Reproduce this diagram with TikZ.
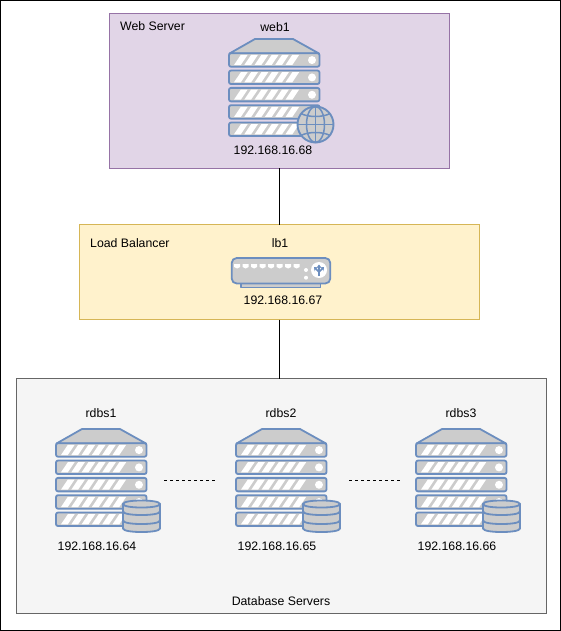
\documentclass[tikz,border=0pt]{standalone}
\usepackage{fontspec}
\setmainfont{Liberation Sans}
\usetikzlibrary{arrows.meta}
\definecolor{iconblue}{HTML}{6C8EBF}
\definecolor{icongrey}{HTML}{CCCCCC}
\definecolor{webline}{HTML}{9673A6}
\definecolor{webfill}{HTML}{E1D5E7}
\definecolor{lbline}{HTML}{D6B656}
\definecolor{lbfill}{HTML}{FFF2CC}
\definecolor{dbline}{HTML}{666666}
\definecolor{dbfill}{HTML}{F5F5F5}
\tikzset{
  lbl/.style={inner sep=0pt,font=\fontsize{12.3}{14}\selectfont,text=black},
  groupbox/.style={draw=#1,line width=0.9pt,anchor=north west,inner sep=0pt,outer sep=0pt},
  iconbox/.style={anchor=north west,inner sep=0pt,outer sep=0pt},
  iconline/.style={draw=iconblue,line width=1.8pt,fill=icongrey,line join=round},
  link/.style={draw=black,line width=0.9pt},
  dots/.style={draw=black,line width=0.75pt,dash pattern=on 3pt off 3pt},
  serverstack/.pic={
    \path[iconline] (1.5,15.5) -- (27,1) -- (65,1) -- (91,15.5) -- cycle;
    \foreach \ry in {15.2,32.53,49.87,67.2,84.53}{
      \path[iconline,rounded corners=2pt] (1,\ry) rectangle (91.5,\ry+13.5);
      \foreach \k in {0,...,5}{
        \fill[white] ({6+10.3*\k},\ry+11.8) -- ({12.8+10.3*\k},\ry+11.8) -- ({19.6+10.3*\k},\ry+1.7) -- ({12.8+10.3*\k},\ry+1.7) -- cycle;
      }
      \fill[white] (84,\ry+6.9) circle[radius=4];
    }
  },
  globeicon/.pic={
    \path[iconline,line width=1.9pt] (87.5,86.5) circle[radius=18];
    \begin{scope}[draw=iconblue,line width=1.5pt]
      \draw (87.5,86.5) ellipse[x radius=9,y radius=18];
      \draw (87.5,68.5) -- (87.5,104.5);
      \draw (69.5,86.5) -- (105.5,86.5);
      \draw (73,75.5) .. controls (80,79.5) and (95,79.5) .. (102,75.5);
      \draw (73,97.5) .. controls (80,93.5) and (95,93.5) .. (102,97.5);
    \end{scope}
  },
  dbicon/.pic={
    \foreach \ty/\by in {88/100.5,80/92.5,76/83.5}{
      \path[iconline] (68,\ty) -- (68,\by) .. controls (68,\by+4.7) and (105,\by+4.7) .. (105,\by) -- (105,\ty) -- cycle;
    }
    \path[iconline] (68,76) .. controls (68,71.3) and (105,71.3) .. (105,76) .. controls (105,80.7) and (68,80.7) .. (68,76) -- cycle;
  },
  lbicon/.pic={
    \path[iconline] (10,26.5) rectangle (89.5,30.5);
    \path[iconline,rounded corners=5pt] (0.7,1) rectangle (99.3,26.5);
    \foreach \k in {0,...,7}{
      \fill[white] ({6+8.5*\k-3},7) -- ({6+8.5*\k+3},7) -- ({6+8.5*\k+3},10) -- ({6+8.5*\k},11.5) -- ({6+8.5*\k-3},10) -- cycle;
    }
    \fill[white] (75,13) circle[radius=2];
    \fill[white] (75,20.7) circle[radius=2];
    \fill[white] (88,13) circle[radius=8];
    \begin{scope}[draw=iconblue,fill=iconblue,line width=1.6pt]
      \draw[-{Stealth[length=3.5pt,width=5pt]}] (88,19) -- (88,7.5);
      \draw[-{Stealth[length=3.5pt,width=5pt]}] (88,15) -- (83,10);
      \draw[-{Stealth[length=3.5pt,width=5pt]}] (88,15) -- (93,10);
    \end{scope}
  }
}
\begin{document}
\begin{tikzpicture}[x=1pt,y=-1pt]
\useasboundingbox (0,0) rectangle (561,631);
\draw[black,line width=1.2pt] (0.5,0.5) rectangle (560.4,630.4);

\node[groupbox=webline,fill=webfill,minimum width=340pt,minimum height=155pt] (webgroup) at (109.5,13.5) {};
\node[groupbox=lbline,fill=lbfill,minimum width=400pt,minimum height=95pt] (lbgroup) at (79.5,224.5) {};
\node[groupbox=dbline,fill=dbfill,minimum width=530pt,minimum height=235pt] (dbgroup) at (16.5,378.5) {};

\draw[link] (webgroup.south -| lbgroup.north) -- (lbgroup.north);
\draw[link] (lbgroup.south) -- (lbgroup.south |- dbgroup.north);

% web server
\node[iconbox,minimum width=106pt,minimum height=106pt] (web1icon) at (228,38) {};
\pic at (228,38) {serverstack};
\pic at (228,38) {globeicon};
\node[lbl,anchor=west] (webtitle) at (120,26) {Web Server};
\node[lbl] (web1) at (275,27) {web1};
\node[lbl] (webip) at (273,150) {192.168.16.68};

% load balancer
\node[iconbox,minimum width=100pt,minimum height=31pt] (lb1icon) at (231,257) {};
\pic at (231,257) {lbicon};
\node[lbl,anchor=west] (lbtitle) at (90,243) {Load Balancer};
\node[lbl] (lb1) at (280,243) {lb1};
\node[lbl] (lbip) at (283,300) {192.168.16.67};

% database servers
\foreach \nm/\xx/\ip in {rdbs1/55/64,rdbs2/235/65,rdbs3/415/66}{
  \node[iconbox,minimum width=106pt,minimum height=105pt] (\nm icon) at (\xx,428) {};
  \pic at (\xx,428) {serverstack};
  \pic at (\xx,428) {dbicon};
  \node[lbl] (\nm) at (\xx+46,413) {\nm};
  \node[lbl] (\nm ip) at (\xx+42,546) {192.168.16.\ip};
}
\node[lbl] (dbtitle) at (281,601) {Database Servers};

\draw[dots] ([xshift=3pt]rdbs1icon.east) -- ([xshift=-20pt]rdbs2icon.west);
\draw[dots] ([xshift=8pt]rdbs2icon.east) -- ([xshift=-15pt]rdbs3icon.west);
\end{tikzpicture}
\end{document}
